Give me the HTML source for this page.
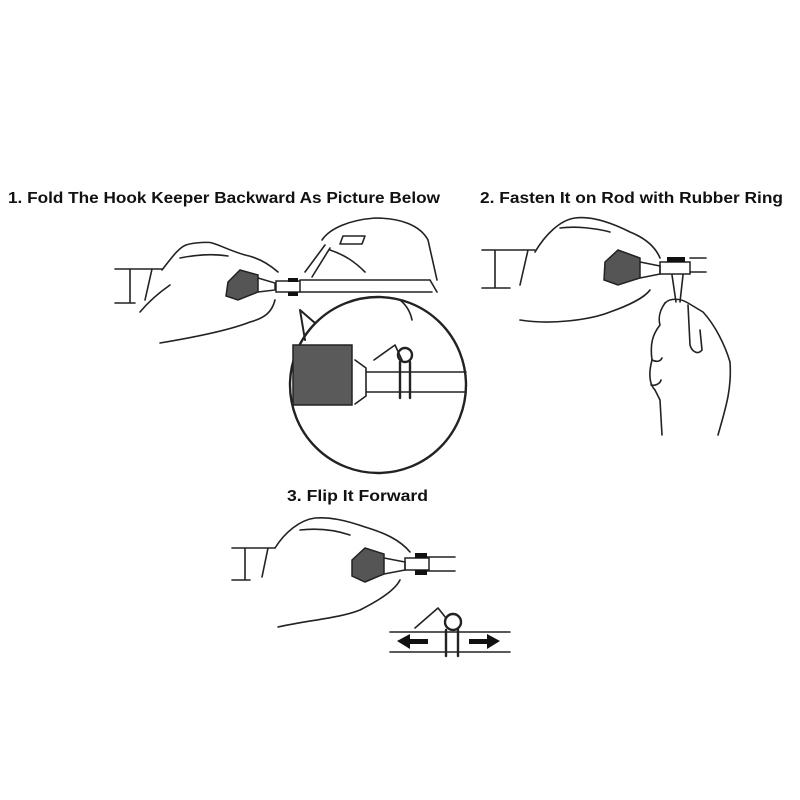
<!DOCTYPE html>
<html><head><style>
html,body{margin:0;padding:0;background:#fff;}
svg{display:block}
text{font-family:"Liberation Sans",Arial,sans-serif;font-weight:bold;font-size:15.5px;fill:#111}
</style></head><body>
<svg width="800" height="800" viewBox="0 0 800 800" xmlns="http://www.w3.org/2000/svg">
<rect width="800" height="800" fill="#fff"/>
<text x="8" y="203" textLength="432" lengthAdjust="spacingAndGlyphs">1. Fold The Hook Keeper Backward As Picture Below</text>
<text x="480" y="203" textLength="303" lengthAdjust="spacingAndGlyphs">2. Fasten It on Rod with Rubber Ring</text>
<text x="287" y="501" textLength="141" lengthAdjust="spacingAndGlyphs">3. Flip It Forward</text>

<g fill="none" stroke="#222" stroke-width="1.6" stroke-linecap="round" stroke-linejoin="round">
<!-- Panel 1 -->
<path d="M115 269 H162 M115 303 H135 M130 269 V303 M152 269 L145 300"/>
<path d="M162 270 C170 260 178 248 186 245 C195 242 210 242 212 243 C220 245 228 250 245 255 C260 258 270 265 278 272"/>
<path d="M140 312 C150 300 160 292 170 285"/>
<path d="M160 343 C190 338 230 330 250 322 C265 318 272 312 275 300"/>
<path d="M180 258 C200 254 215 254 228 256"/>
<path d="M300 280 H430 M300 292 H432 M430 280 L437 292"/>
<path d="M305 272 L325 245 M312 277 L330 248"/>
<path d="M322 240 C330 228 350 220 375 218 C400 218 420 225 428 240 L437 280"/>
<path d="M330 250 C345 255 355 262 365 272 M343 236 L365 236 L362 244 L340 244 Z"/>
<path d="M400 300 C405 304 410 310 412 320"/>
<!-- inset circle -->
<circle cx="378" cy="385" r="88" stroke-width="2.4"/>
<path d="M300 310 L315 323 M300 310 L305 340" stroke-width="2"/>
<path d="M355 360 L366 368 V396 L355 404 M366 372 H466 M366 392 H466"/>
<path d="M374 360 L395 345 L402 360" /><circle cx="405" cy="355" r="7" stroke-width="2.4"/>
<path d="M400 362 V398 M410 362 V398" stroke-width="2.4"/>
<!-- Panel 2 -->
<path d="M482 250 H535 M482 288 H510 M495 250 V288 M528 250 L520 285"/>
<path d="M535 252 C545 235 560 220 575 218 C590 216 610 222 630 232 C645 238 655 246 660 258"/>
<path d="M520 320 C550 325 590 320 610 312 C630 305 645 297 650 290"/>
<path d="M560 228 C575 226 595 228 610 232"/>
<path d="M690 258 H706 M690 272 H706"/>
<path d="M672 275 L676 302 M683 275 L680 302"/>
<path d="M665 303 C670 298 680 298 688 303 L703 312 C715 325 725 345 730 362 C732 390 725 410 718 435"/>
<path d="M665 303 C660 310 658 318 660 325 C652 335 650 345 652 360 C648 375 650 385 655 390 L660 400 L662 435"/>
<path d="M688 305 L690 345 C692 352 698 355 702 350 L700 330"/>
<path d="M652 360 C656 362 660 362 662 358 M651 385 C655 386 660 384 661 380"/>
<!-- Panel 3 -->
<path d="M232 548 H275 M232 580 H250 M245 548 V580 M268 548 L262 577"/>
<path d="M275 548 C285 532 300 520 315 518 C330 517 345 520 365 527 C385 533 400 540 410 552"/>
<path d="M278 627 C310 620 340 618 360 610 C380 600 395 590 400 580"/>
<path d="M300 530 C318 528 335 530 350 535"/>
<path d="M427 557 H455 M427 571 H455"/>
<!-- flip detail -->
<path d="M390 632 H510 M390 652 H510"/>
<path d="M415 628 L438 608 L446 618"/><circle cx="453" cy="622" r="8" stroke-width="2.4"/>
<path d="M446 630 V656 M458 630 V656" stroke-width="2.4"/>
</g>
<g fill="#555" stroke="#222" stroke-width="1.5">
<path d="M228 282 L240 270 L258 275 L258 292 L238 300 L226 296 Z"/>
<path d="M293 345 H352 V405 H293 Z" fill="#5a5a5a"/>
<path d="M605 262 L618 250 L640 258 L640 278 L618 285 L604 280 Z"/>
<path d="M352 560 L365 548 L384 554 L384 574 L365 582 L352 576 Z"/>
</g>
<g fill="none" stroke="#222" stroke-width="1.5">
<path d="M258 278 L275 283 L275 290 L258 292"/><rect x="276" y="281" width="24" height="11"/>
<path d="M640 262 L660 266 L660 274 L640 278"/><rect x="660" y="262" width="30" height="12"/>
<path d="M384 558 L405 562 L405 570 L384 574"/><rect x="405" y="558" width="24" height="12"/>
</g>
<g fill="#111">
<rect x="288" y="278" width="10" height="4"/><rect x="288" y="292" width="10" height="4"/>
<rect x="667" y="257" width="18" height="5"/>
<rect x="415" y="553" width="12" height="5"/><rect x="415" y="570" width="12" height="5"/>
<path d="M397 641 L410 634 V639 H428 V644 H410 V649 Z"/>
<path d="M500 641 L487 634 V639 H469 V644 H487 V649 Z"/>
</g>
</svg>
</body></html>
